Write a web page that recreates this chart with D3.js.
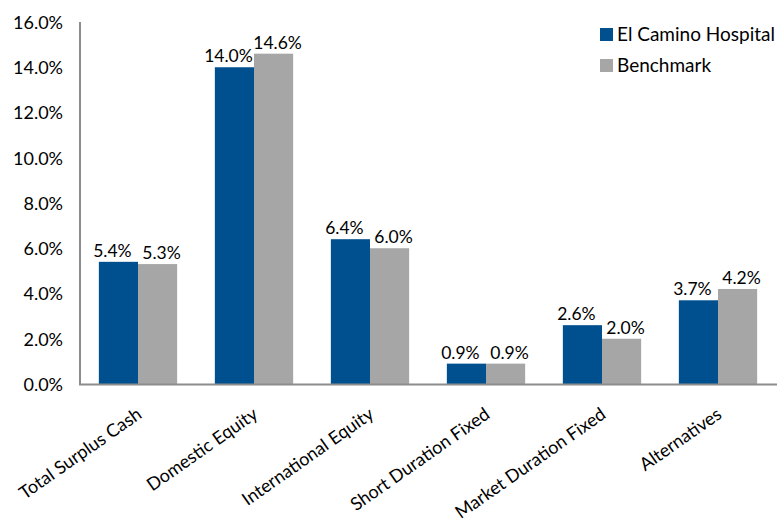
<!DOCTYPE html>
<html><head><meta charset="utf-8">
<script src="https://cdn.jsdelivr.net/npm/d3@7"></script>
<style>body{margin:0;background:#fff;} text{font-family:Lato,sans-serif;fill:#000;}</style>
</head><body><svg id="c" width="779" height="524"></svg>
<script>
const categories = ["Total Surplus Cash","Domestic Equity","International Equity","Short Duration Fixed","Market Duration Fixed","Alternatives"];
const seriesNames = ["El Camino Hospital","Benchmark"];
const hospital = [5.4, 14.0, 6.4, 0.9, 2.6, 3.7];
const benchmark = [5.3, 14.6, 6.0, 0.9, 2.0, 4.2];
const yTicks = [0,2,4,6,8,10,12,14,16];
const colors = ["#00508F","#A6A6A6"];

const svg = d3.select("#c");
const x0 = d3.scaleBand().domain(categories).range([80,776]).paddingInner(0.325).paddingOuter(0.1625);
const x1 = d3.scaleBand().domain(seriesNames).range([0,x0.bandwidth()]);
const y = d3.scaleLinear().domain([0,16]).range([384,22]);

const ya = svg.append("g").attr("transform","translate(80,0)")
  .call(d3.axisLeft(y).tickValues(yTicks).tickFormat(d=>d.toFixed(1)+"%").tickSize(0).tickPadding(17));
ya.select(".domain").remove();
ya.selectAll("text").style("font-size","18px").attr("fill","#000").attr("dy","0.35em");

const data = categories.map((c,i)=>({c, vals:[hospital[i],benchmark[i]]}));
const g = svg.append("g");
const grp = g.selectAll("g").data(data).join("g").attr("transform",d=>`translate(${x0(d.c)},0)`);
grp.selectAll("rect").data(d=>d.vals.map((v,j)=>({v,s:seriesNames[j],j})))
  .join("rect").attr("x",d=>x1(d.s)).attr("width",x1.bandwidth())
  .attr("y",d=>y(d.v)).attr("height",d=>y(0)-y(d.v)).attr("fill",d=>colors[d.j]);
// label nudges: series 0 left, series 1 right (styling)
const nudge = [-6, 4];
grp.selectAll("text").data(d=>d.vals.map((v,j)=>({v,s:seriesNames[j],j})))
  .join("text").attr("x",d=>x1(d.s)+x1.bandwidth()/2+nudge[d.j]).attr("y",d=>y(d.v)-5)
  .attr("text-anchor","middle").style("font-size","17.5px").text(d=>d.v.toFixed(1)+"%");

svg.append("line").attr("x1",80).attr("x2",80).attr("y1",22).attr("y2",385).attr("stroke","#8c8c8c").attr("stroke-width",2);
svg.append("line").attr("x1",79).attr("x2",777).attr("y1",384.5).attr("y2",384.5).attr("stroke","#8c8c8c").attr("stroke-width",2);

const xa = svg.append("g").attr("transform","translate(0,384)")
  .call(d3.axisBottom(x0).tickSize(0).tickPadding(0));
xa.select(".domain").remove();
xa.selectAll("text").attr("text-anchor","end").attr("dy",0).attr("y",0)
  .attr("transform","translate(5,33) rotate(-35)").style("font-size","18px").attr("fill","#000");

const lg = svg.append("g");
seriesNames.forEach((s,i)=>{
  lg.append("rect").attr("x",600).attr("y",28+i*31).attr("width",13).attr("height",13).attr("fill",colors[i]);
  lg.append("text").attr("x",617).attr("y",41+i*31).style("font-size","19px").text(s);
});
</script></body></html>
